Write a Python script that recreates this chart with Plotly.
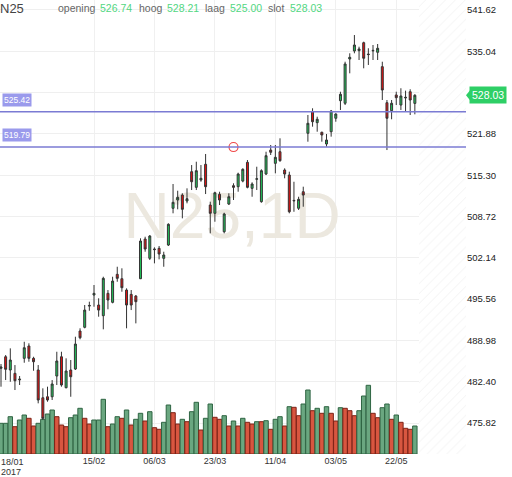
import pandas as pd
import plotly.graph_objects as go

# trading days (Euronext closed on Good Friday, Easter Monday and 1 May)
dates = pd.bdate_range("2017-01-18", "2017-05-26")
dates = [d for d in dates if d.strftime("%Y-%m-%d") not in ("2017-04-14", "2017-04-17", "2017-05-01")]

opens = [
    484.54, 486.38, 484.27, 483.74, 482.70, 486.13, 488.09, 486.13, 484.27, 479.85,
    480.01, 480.01, 483.31, 486.38, 481.45, 484.27, 484.43, 490.48, 491.07, 494.45,
    496.21, 494.62, 492.92, 496.48, 495.05, 499.51, 498.81, 497.01, 496.32, 496.05,
    498.81, 505.13, 502.06, 503.55, 503.65, 502.06, 504.18, 510.03, 511.35, 512.14,
    511.19, 515.86, 513.37, 514.53, 517.04, 510.55, 509.23, 512.26, 506.30, 510.71,
    513.63, 513.47, 514.37, 517.35, 513.21, 514.65, 511.08, 515.49, 519.31, 517.19,
    519.04, 516.13, 515.33, 511.20, 510.03, 512.67, 521.98, 525.42, 523.67, 522.14,
    520.27, 522.23, 524.37, 527.17, 526.76, 533.81, 535.09, 535.14, 536.41, 534.60,
    535.10, 534.88, 532.59, 526.85, 525.58, 528.08, 526.48, 527.60, 528.60, 526.74]
highs = [
    485.22, 486.65, 487.72, 485.06, 483.31, 488.77, 488.52, 486.38, 485.06, 481.35,
    481.61, 482.67, 487.18, 487.18, 486.13, 485.86, 489.57, 490.91, 494.62, 495.15,
    497.81, 495.69, 499.13, 497.01, 499.13, 500.72, 500.47, 497.28, 497.01, 496.21,
    505.25, 505.50, 505.77, 503.81, 504.02, 503.11, 507.64, 513.90, 512.83, 512.42,
    513.21, 516.92, 517.45, 516.92, 518.68, 511.08, 512.67, 512.67, 509.32, 512.42,
    514.01, 515.70, 516.40, 517.72, 514.17, 516.65, 516.24, 519.04, 520.11, 520.11,
    521.18, 516.40, 515.86, 514.26, 511.87, 513.47, 524.89, 525.96, 524.62, 522.23,
    521.87, 525.69, 525.16, 528.60, 533.38, 534.72, 537.63, 535.77, 536.57, 535.52,
    536.04, 536.20, 533.38, 527.28, 527.28, 528.60, 529.15, 528.77, 528.99, 528.21]
lows = [
    481.61, 482.67, 482.40, 481.08, 481.88, 485.43, 485.59, 484.15, 478.96, 476.30,
    479.22, 479.49, 481.88, 481.61, 481.35, 480.01, 484.27, 489.16, 490.91, 493.71,
    494.35, 492.76, 490.75, 493.94, 494.89, 498.33, 496.74, 490.91, 493.82, 491.70,
    498.76, 503.11, 501.79, 501.26, 501.90, 500.72, 504.02, 509.23, 509.87, 508.43,
    510.82, 512.94, 512.94, 514.26, 512.30, 506.04, 507.89, 510.55, 506.04, 510.55,
    511.35, 512.67, 514.17, 513.21, 511.87, 512.94, 510.92, 515.33, 518.52, 515.60,
    517.45, 514.81, 509.23, 509.48, 509.76, 510.28, 520.64, 523.03, 522.23, 520.64,
    519.84, 521.44, 523.82, 525.69, 526.48, 531.53, 534.72, 533.65, 532.33, 532.86,
    533.65, 533.65, 527.28, 519.31, 524.21, 526.48, 525.69, 525.42, 524.89, 525.00]
closes = [
    484.75, 484.38, 485.86, 482.56, 482.80, 487.82, 486.13, 485.59, 479.49, 476.57,
    479.49, 482.04, 485.70, 481.88, 484.11, 483.20, 488.41, 489.41, 493.82, 494.55,
    496.48, 493.82, 498.87, 495.42, 498.44, 498.87, 497.38, 494.62, 494.62, 495.15,
    504.82, 503.54, 505.61, 503.45, 502.75, 502.59, 507.48, 510.98, 511.78, 509.87,
    511.56, 514.26, 516.02, 514.81, 513.47, 509.23, 512.51, 511.35, 509.12, 511.87,
    513.37, 515.49, 516.24, 513.37, 513.90, 514.73, 516.02, 518.41, 518.95, 518.15,
    517.61, 515.49, 509.48, 511.28, 511.46, 512.14, 523.57, 523.82, 524.21, 521.71,
    520.91, 525.53, 525.05, 528.19, 533.02, 534.08, 536.04, 535.41, 533.93, 534.52,
    535.18, 535.52, 528.87, 524.37, 526.76, 527.65, 527.92, 527.70, 527.28, 528.03]

# volume (relative units) and bar colour: g = up, r = down
volumes = [
    30.7, 30.7, 37.3, 27.3, 34.0, 39.0, 35.7, 28.0, 30.7, 34.7,
    40.0, 44.0, 37.3, 29.0, 27.3, 36.3, 39.0, 45.7, 35.7, 30.0,
    34.0, 34.0, 54.7, 27.3, 30.0, 37.3, 35.7, 44.0, 29.0, 34.7,
    40.7, 33.0, 42.3, 26.3, 24.7, 31.7, 49.0, 41.3, 30.0, 34.7,
    32.3, 42.3, 51.7, 24.0, 35.7, 50.0, 36.7, 34.7, 38.3, 28.0,
    33.0, 28.0, 35.7, 31.7, 30.0, 32.3, 32.3, 33.3, 24.7, 34.7,
    37.3, 28.0, 47.3, 46.7, 38.3, 50.0, 64.0, 43.3, 45.7, 40.7,
    47.3, 40.7, 33.0, 46.3, 45.7, 43.3, 38.3, 43.3, 58.0, 68.7,
    40.7, 36.3, 46.3, 50.0, 34.7, 39.0, 31.7, 25.7, 24.7, 28.0]
vol_dir = list("gggrggrrgg" "ggrrrgggrr" "gggrggrgrg" "grgrrggrrg" "rggrggrrgr"
               "grgrrgrgrg" "grgrrggrgr" "grrgrrrggg" "rrggrgrrrg")

levels = [525.42, 519.79]
alert_idx = 50
alert_price = 519.79

price_ticks = [475.82, 482.40, 488.98, 495.56, 502.14, 508.72, 515.30,
               521.88, 528.46, 535.04, 541.62]
hidden_tick = 528.46  # sits under the last-price tag
date_ticks = ["2017-02-15", "2017-03-06", "2017-03-23", "2017-04-11",
              "2017-05-03", "2017-05-22"]

n = len(dates)
idx = list(range(n))
day_str = [d.strftime("%Y-%m-%d") for d in dates]
tick_idx = [day_str.index(t) for t in date_ticks]
tick_txt = [dates[i].strftime("%d/%m") for i in tick_idx]

y_lo, y_hi = 470.89, 543.21
x_lo, x_hi = -0.215, 100.0
FONT = "Liberation Sans, Arial"

fig = go.Figure()

# hatched "future" zone
fig.add_trace(go.Scatter(
    x=[n - 0.1, x_hi + 1, x_hi + 1, n - 0.1], y=[y_lo, y_lo, y_hi, y_hi],
    fill="toself", mode="lines", line=dict(width=0),
    fillcolor="white",
    fillpattern=dict(shape="/", fgcolor="#e2e2e2", bgcolor="white", size=7, solidity=0.12),
    hoverinfo="skip", showlegend=False))

# watermark
fig.add_trace(go.Scatter(
    x=[49.7], y=[507.85], mode="text", text=["N25,1D"],
    textfont=dict(size=64, color="#ece8df", family=FONT),
    hoverinfo="skip", showlegend=False))

# volume
fig.add_trace(go.Bar(
    x=idx, y=volumes, yaxis="y2", width=0.95,
    marker=dict(color=["#6aa780" if d == "g" else "#d85640" for d in vol_dir],
                line=dict(color=["#2f6543" if d == "g" else "#7d2216" for d in vol_dir], width=1)),
    hoverinfo="skip", showlegend=False))

# candles
fig.add_trace(go.Candlestick(
    x=idx, open=opens, high=highs, low=lows, close=closes, yaxis="y3",
    increasing=dict(fillcolor="#22c35a", line=dict(color="#333333", width=1)),
    decreasing=dict(fillcolor="#e81010", line=dict(color="#333333", width=1)),
    whiskerwidth=0, showlegend=False))

fig.add_trace(go.Scatter(
    x=[alert_idx], y=[alert_price], yaxis="y3", mode="markers",
    marker=dict(symbol="circle-open", size=9, color="#f04848", line=dict(width=1.2)),
    hoverinfo="skip", showlegend=False))

shapes = []
annotations = []
for lv in levels:
    shapes.append(dict(type="line", xref="paper", x0=0, x1=1, yref="y", y0=lv, y1=lv,
                       line=dict(color="#7b7bd3", width=1.5)))
    annotations.append(dict(xref="paper", x=0.005, xanchor="left", yref="y", y=lv,
                            yanchor="bottom", yshift=5, text=f"{lv:.2f}", showarrow=False,
                            bgcolor="#9a9aec", borderpad=1,
                            font=dict(size=8.5, color="white", family=FONT)))

# last price tag on the right axis
last = closes[-1]
shapes.append(dict(type="path", xref="paper", xsizemode="pixel", xanchor=1,
                   yref="y", ysizemode="pixel", yanchor=last,
                   path="M 0 0 L 4 5 L 4 -5 Z", fillcolor="#2ecf66", line=dict(width=0)))
annotations.append(dict(xref="paper", x=1, xanchor="left", xshift=3, yref="y", y=last,
                        text=f"{last:.2f}", showarrow=False, bgcolor="#2ecf66", borderpad=2,
                        font=dict(size=10.5, color="white", family=FONT)))

# header
pw = 466.0
ph = 454.0
hdr = [("N25", 0, 13, "#444444"),
       ("opening", 58, 10.5, "#666666"), (f"{opens[-1]:.2f}", 100, 10.5, "#52d681"),
       ("hoog", 139, 10.5, "#666666"), (f"{highs[-1]:.2f}", 167, 10.5, "#52d681"),
       ("laag", 205, 10.5, "#666666"), (f"{lows[-1]:.2f}", 230, 10.5, "#52d681"),
       ("slot", 268, 10.5, "#666666"), (f"{closes[-1]:.2f}", 290, 10.5, "#52d681")]
for txt, px, sz, col in hdr:
    annotations.append(dict(xref="paper", x=px / pw, xanchor="left", yref="paper",
                            y=1 - 8 / ph, yanchor="middle", text=txt, showarrow=False,
                            borderpad=0, xshift=-1,
                            font=dict(size=sz, color=col, family=FONT)))

# first date label (left aligned, date + year)
annotations.append(dict(xref="paper", x=0, xanchor="left", yref="paper", y=0, yanchor="top",
                        yshift=-2, showarrow=False, borderpad=0,
                        text=dates[0].strftime("%d/%m"),
                        font=dict(size=9, color="#333333", family=FONT)))
annotations.append(dict(xref="paper", x=0, xanchor="left", yref="paper", y=0, yanchor="top",
                        yshift=-12, showarrow=False, borderpad=0,
                        text=dates[0].strftime("%Y"),
                        font=dict(size=9, color="#333333", family=FONT)))

fig.update_layout(
    width=512, height=477,
    margin=dict(l=0, r=46, t=0, b=23, pad=0),
    paper_bgcolor="white", plot_bgcolor="white",
    boxgap=0.4,
    showlegend=False,
    xaxis=dict(range=[x_lo, x_hi], tickvals=tick_idx, ticktext=tick_txt, showgrid=True,
               gridcolor="#f0f0f0", zeroline=False, ticks="", showline=False,
               rangeslider=dict(visible=False),
               tickfont=dict(size=9, color="#333333", family=FONT)),
    yaxis=dict(range=[y_lo, y_hi], side="right", tickvals=price_ticks,
               ticktext=["" if v == hidden_tick else f"{v:.2f}" for v in price_ticks],
               showgrid=True, gridcolor="#efefef", zeroline=False, ticks="", showline=False,
               tickfont=dict(size=9.5, color="#222222", family=FONT)),
    yaxis2=dict(range=[0, 454], overlaying="y", visible=False),
    yaxis3=dict(range=[y_lo, y_hi], overlaying="y", visible=False),
    shapes=shapes,
    annotations=annotations,
)

# page has a default body margin; remove it so the figure sits at the top-left corner
fig.write_html("out.html", config={"displayModeBar": False},
               post_script="document.body.style.margin='0';")
